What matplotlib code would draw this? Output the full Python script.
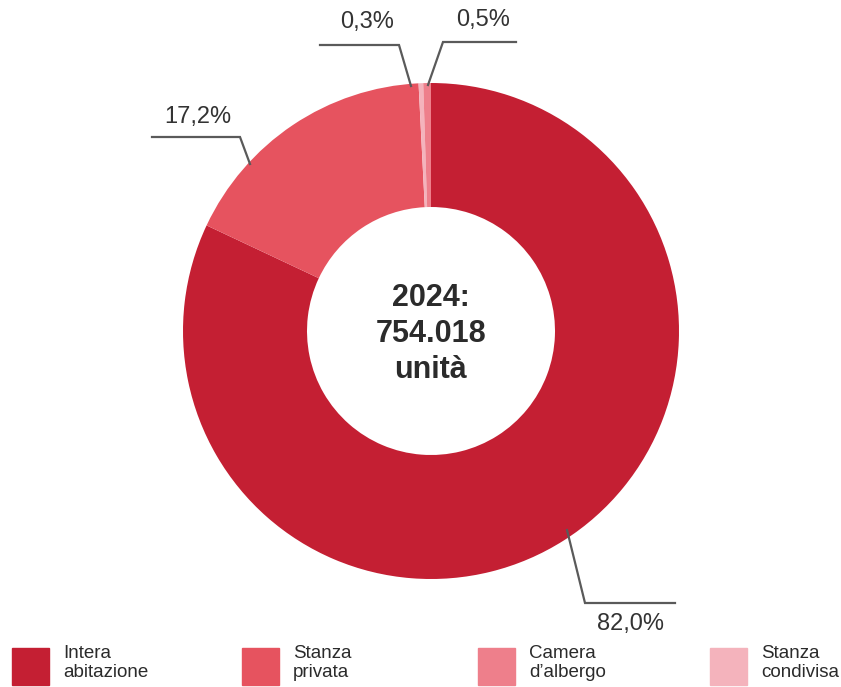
import matplotlib.pyplot as plt
from matplotlib.patches import Rectangle

# Data (clockwise from 12 o'clock)
slice_names = ['Intera abitazione', 'Stanza privata', 'Stanza condivisa', "Camera d'albergo"]
slice_values = [82.0, 17.2, 0.3, 0.5]
slice_colors = ['#c41f33', '#e6535f', '#f4b3bc', '#ee7f8b']
slice_labels = ['82,0%', '17,2%', '0,3%', '0,5%']

legend_names = ['Intera\nabitazione', 'Stanza\nprivata', 'Camera\nd\u2019albergo', 'Stanza\ncondivisa']
legend_colors = ['#c41f33', '#e6535f', '#ee7f8b', '#f4b3bc']

center_text = '2024:\n754.018\nunità'

plt.rcParams['font.family'] = ['Liberation Sans', 'DejaVu Sans']

W, H = 841, 687
fig = plt.figure(figsize=(W / 100, H / 100), dpi=100)
ax = fig.add_axes([0, 0, 1, 1])

cx, cy, r = 431, 331, 248

# pie drawn on inverted y axis: counterclock=True appears clockwise
ax.pie(slice_values, colors=slice_colors, startangle=-90, counterclock=True,
       center=(cx, cy), radius=r, frame=True,
       wedgeprops=dict(width=r * 0.5, linewidth=0))
ax.set_xlim(0, W)
ax.set_ylim(H, 0)
ax.axis('off')

# leader lines (layout): points of each polyline and label position
leaders = [
    ([(567, 530), (585, 603), (675, 603)], (631, 624)),
    ([(250, 164), (240, 137), (152, 137)], (198, 117)),
    ([(411, 86), (399, 45), (320, 45)], (367, 22)),
    ([(428, 85), (443, 42), (516, 42)], (483, 20)),
]
for lab, (pts, tpos) in zip(slice_labels, leaders):
    xs = [p[0] for p in pts]
    ys = [p[1] for p in pts]
    ax.plot(xs, ys, color='#5a5a5a', lw=1.6, solid_joinstyle='miter')
    ax.text(tpos[0], tpos[1], lab, ha='center', va='center', fontsize=17,
            color='#333333')

ax.text(cx, cy + 3, center_text, ha='center', va='center', fontsize=22,
        fontweight='bold', color='#2b2b2b', linespacing=1.25)

# legend
leg_x = [12, 242, 478, 710]
for x, name, col in zip(leg_x, legend_names, legend_colors):
    ax.add_patch(Rectangle((x, 648), 37, 37, color=col, clip_on=False))
    ax.text(x + 51, 645, name, ha='left', va='top', fontsize=13.5,
            color='#2b2b2b', linespacing=1.15)

fig.savefig('out.png', dpi=100)
